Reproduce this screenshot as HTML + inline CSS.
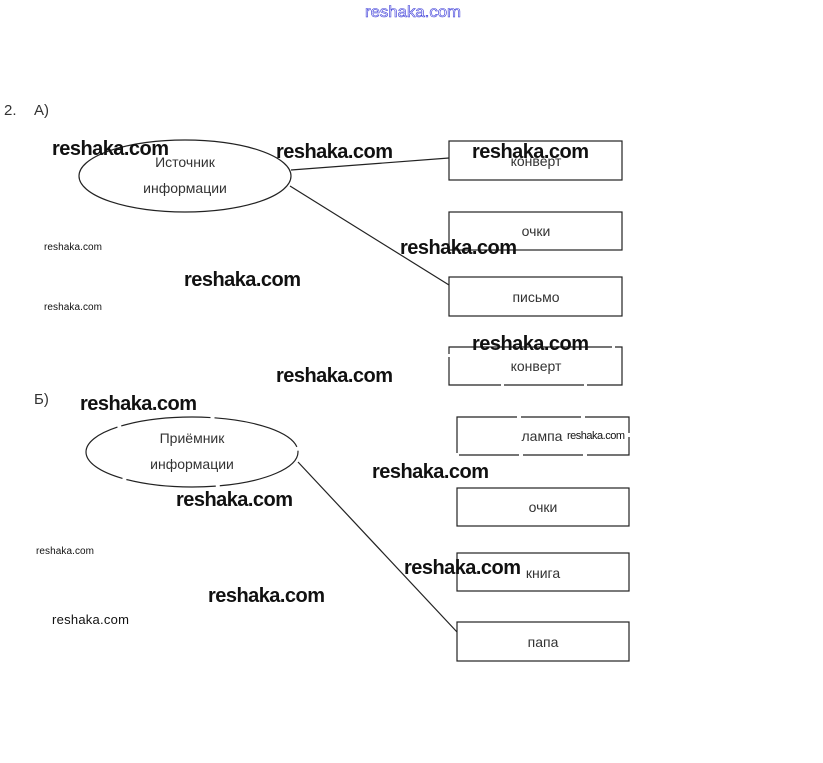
<!DOCTYPE html>
<html><head><meta charset="utf-8"><style>
html,body{margin:0;padding:0;background:#fff;}
svg{display:block;font-family:"Liberation Sans",sans-serif;}
.w{font-weight:bold;font-size:20px;fill:#111;}
.s{font-size:10px;fill:#111;}
.l{font-size:14px;fill:#333;text-anchor:middle;}
</style></head><body>
<svg width="823" height="763" viewBox="0 0 823 763" xmlns="http://www.w3.org/2000/svg">
<rect width="823" height="763" fill="#fff"/>
<text x="365" y="17" font-size="16" fill="#fff" stroke="#3a3ad8" stroke-width="0.6" textLength="96" lengthAdjust="spacingAndGlyphs">reshaka.com</text>
<text x="4" y="115" font-size="15" fill="#333">2.</text>
<text x="34" y="115" font-size="15" fill="#333">А)</text>
<g fill="none" stroke="#222" stroke-width="1.2">
<ellipse cx="185" cy="176" rx="106" ry="36"/>
<line x1="291" y1="170" x2="449" y2="158"/>
<line x1="290" y1="186" x2="449" y2="285"/>
<rect x="449" y="141" width="173" height="39"/>
<rect x="449" y="212" width="173" height="38"/>
<rect x="449" y="277" width="173" height="39"/>
<rect x="449" y="347" width="173" height="38" stroke-dasharray="80 3"/>
<rect x="457" y="417" width="172" height="38" stroke-dasharray="60 4"/>
<rect x="457" y="488" width="172" height="38"/>
<rect x="457" y="553" width="172" height="38"/>
<rect x="457" y="622" width="172" height="39"/>
<ellipse cx="192" cy="452" rx="106" ry="35" stroke-dasharray="90 4"/>
<line x1="298" y1="462" x2="457" y2="632"/>
</g>
<text class="l" x="185" y="167">Источник</text>
<text class="l" x="185" y="193">информации</text>
<text class="l" x="536" y="166">конверт</text>
<text class="l" x="536" y="236">очки</text>
<text class="l" x="536" y="302">письмо</text>
<text class="l" x="536" y="371" fill="#666">конверт</text>
<text class="l" x="542" y="441" fill="#777">лампа</text>
<text class="l" x="543" y="512">очки</text>
<text class="l" x="543" y="578">книга</text>
<text class="l" x="543" y="647">папа</text>
<text x="34" y="404" font-size="15" fill="#333">Б)</text>
<text class="l" x="192" y="443" fill="#888">Приёмник</text>
<text class="l" x="192" y="469">информации</text>
<g class="w">
<text x="52" y="155" textLength="117">reshaka.com</text>
<text x="276" y="158" textLength="117">reshaka.com</text>
<text x="472" y="158" textLength="117">reshaka.com</text>
<text x="400" y="254" textLength="117">reshaka.com</text>
<text x="184" y="286" textLength="117">reshaka.com</text>
<text x="472" y="350" textLength="117">reshaka.com</text>
<text x="276" y="382" textLength="117">reshaka.com</text>
<text x="80" y="410" textLength="117">reshaka.com</text>
<text x="372" y="478" textLength="117">reshaka.com</text>
<text x="176" y="506" textLength="117">reshaka.com</text>
<text x="404" y="574" textLength="117">reshaka.com</text>
<text x="208" y="602" textLength="117">reshaka.com</text>
</g>
<text class="s" x="44" y="250" textLength="58">reshaka.com</text>
<text class="s" x="44" y="310" textLength="58">reshaka.com</text>
<text class="s" x="36" y="554" textLength="58">reshaka.com</text>
<text x="52" y="624" font-size="13" fill="#111" textLength="77">reshaka.com</text>
<text x="567" y="439" font-size="11" fill="#111" textLength="58">reshaka.com</text>
</svg>
</body></html>
